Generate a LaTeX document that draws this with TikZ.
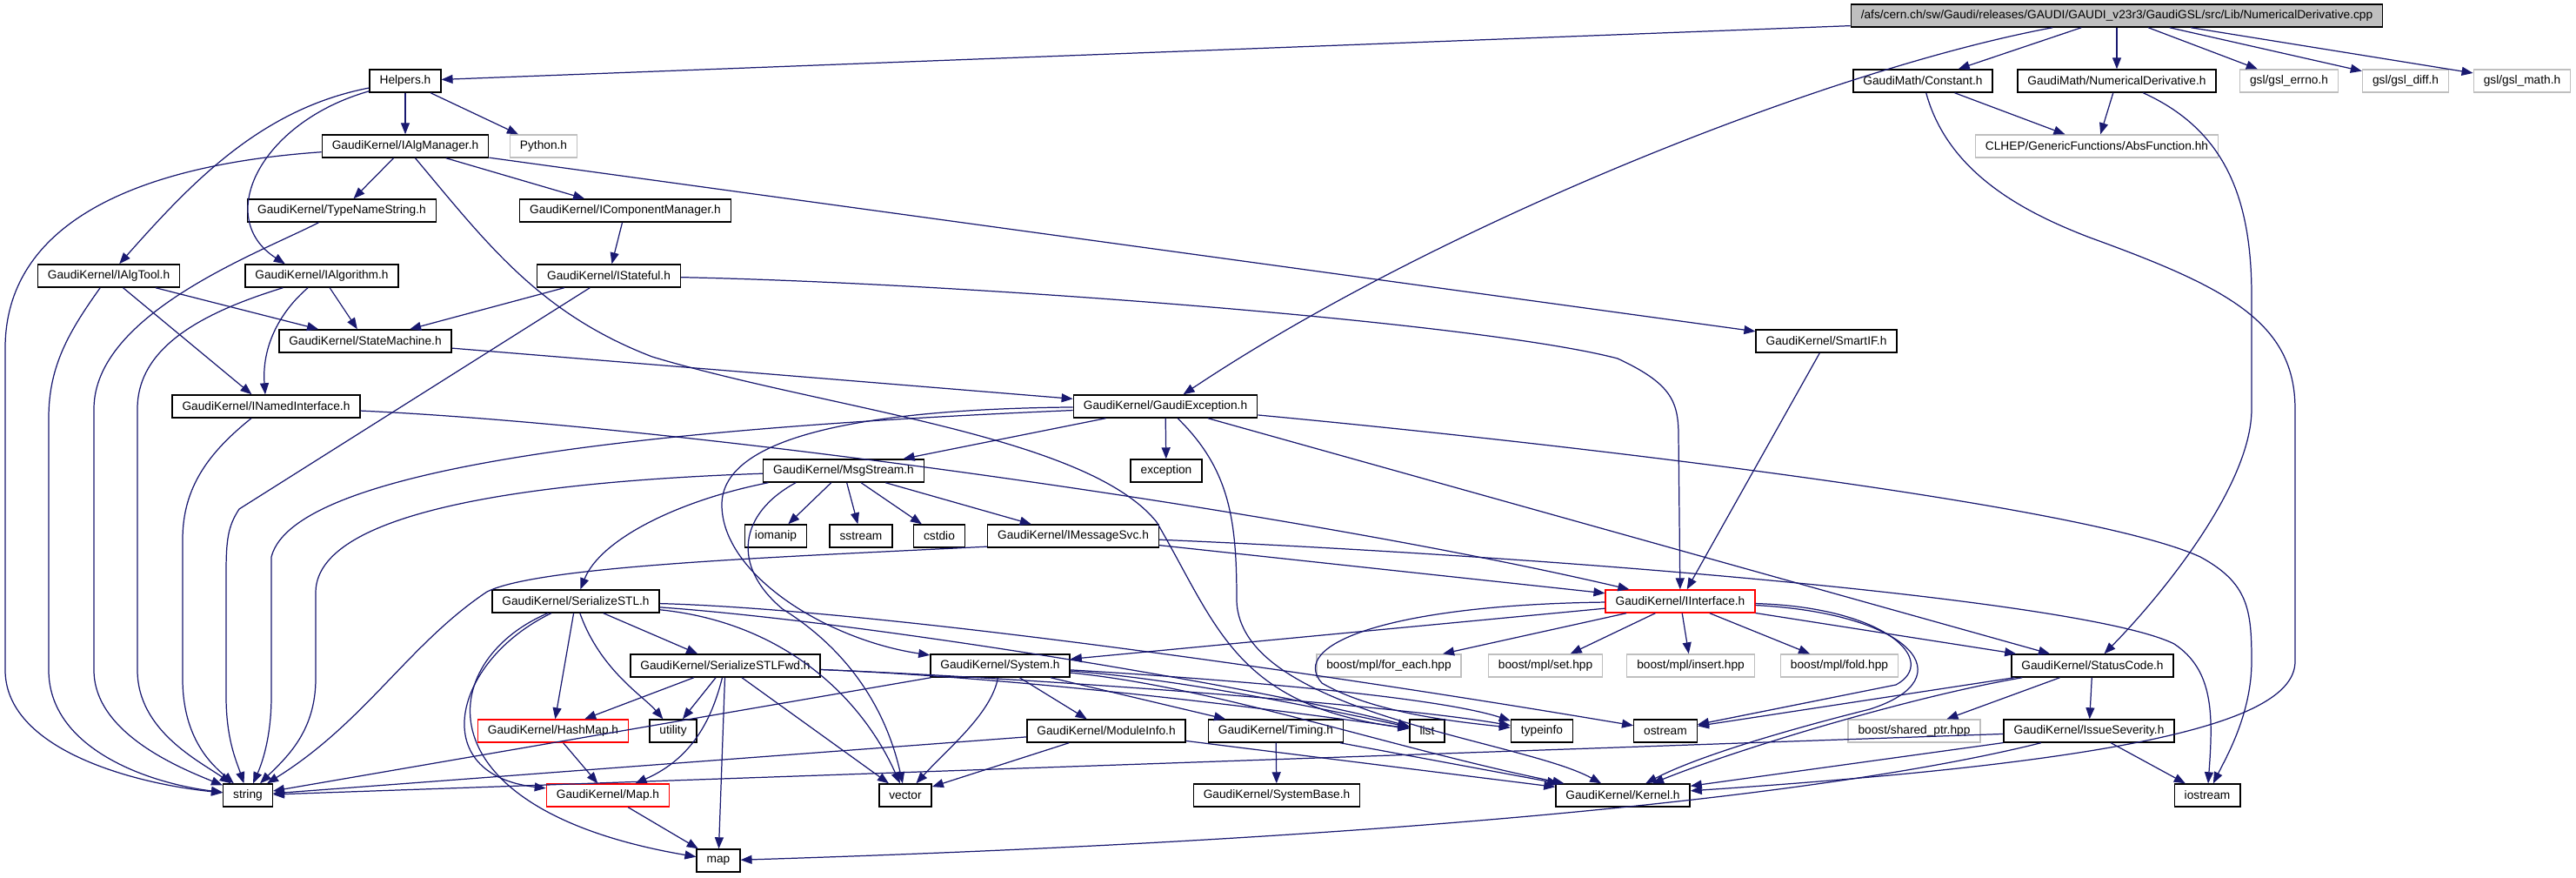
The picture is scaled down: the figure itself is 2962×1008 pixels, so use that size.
\documentclass[tikz,border=0pt]{standalone}
\usepackage{fontspec}
\setmainfont{Liberation Sans}
\usetikzlibrary{arrows.meta, positioning}
\definecolor{edgeblue}{RGB}{25,25,112}
\definecolor{extgray}{RGB}{191,191,191}

\begin{document}
\begin{tikzpicture}[x=0.01cm, y=-0.01cm,
    font=\fontsize{3.9pt}{4.5pt}\selectfont,
    box/.style={rectangle, draw=black, line width=0.4pt, minimum height=0.26cm,
        inner xsep=0.115cm, inner ysep=0pt},
    ext/.style={box, draw=extgray},
    redbox/.style={box, draw=red},
    arrow/.style={-{Triangle[length=0.13cm, width=0.1cm]}, edgeblue, line width=0.35pt}]
    \useasboundingbox (0,0) rectangle (2962,1008);

    \node[box, fill=extgray] (cpp) at (2434,18) {/afs/cern.ch/sw/Gaudi/releases/GAUDI/GAUDI\_v23r3/GaudiGSL/src/Lib/NumericalDerivative.cpp};
    \node[box] (helpers) at (466,93) {Helpers.h};
    \node[box] (constant) at (2211,93) {GaudiMath/Constant.h};
    \node[box] (numderiv) at (2434,93) {GaudiMath/NumericalDerivative.h};
    \node[ext] (gslerrno) at (2632,93) {gsl/gsl\_errno.h};
    \node[ext] (gsldiff) at (2766,93) {gsl/gsl\_diff.h};
    \node[ext] (gslmath) at (2900,93) {gsl/gsl\_math.h};
    \node[box] (algmgr) at (466,168) {GaudiKernel/IAlgManager.h};
    \node[ext] (python) at (625,168) {Python.h};
    \node[ext] (absfunc) at (2411,168) {CLHEP/GenericFunctions/AbsFunction.hh};
    \node[box] (typename) at (393,242) {GaudiKernel/TypeNameString.h};
    \node[box] (compmgr) at (719,242) {GaudiKernel/IComponentManager.h};
    \node[box] (algtool) at (125,317) {GaudiKernel/IAlgTool.h};
    \node[box] (algorithm) at (370,317) {GaudiKernel/IAlgorithm.h};
    \node[box] (stateful) at (700,317) {GaudiKernel/IStateful.h};
    \node[box] (statemachine) at (420,392) {GaudiKernel/StateMachine.h};
    \node[box] (smartif) at (2100,392) {GaudiKernel/SmartIF.h};
    \node[box] (namedif) at (306,467) {GaudiKernel/INamedInterface.h};
    \node[box] (gaudiexc) at (1340,467) {GaudiKernel/GaudiException.h};
    \node[box] (msgstream) at (970,541) {GaudiKernel/MsgStream.h};
    \node[box] (exception) at (1341,541) {exception};
    \node[box] (iomanip) at (892,616) {iomanip};
    \node[box] (sstream) at (990,616) {sstream};
    \node[box] (cstdio) at (1080,616) {cstdio};
    \node[box] (msgsvc) at (1234,616) {GaudiKernel/IMessageSvc.h};
    \node[redbox] (iinterface) at (1932,691) {GaudiKernel/IInterface.h};
    \node[box] (serstl) at (662,691) {GaudiKernel/SerializeSTL.h};
    \node[box] (serfwd) at (834,765) {GaudiKernel/SerializeSTLFwd.h};
    \node[box] (system) at (1150,765) {GaudiKernel/System.h};
    \node[ext] (foreach) at (1597,765) {boost/mpl/for\_each.hpp};
    \node[ext] (mplset) at (1777,765) {boost/mpl/set.hpp};
    \node[ext] (mplinsert) at (1944,765) {boost/mpl/insert.hpp};
    \node[ext] (mplfold) at (2115,765) {boost/mpl/fold.hpp};
    \node[box] (statuscode) at (2406,765) {GaudiKernel/StatusCode.h};
    \node[redbox] (hashmap) at (636,840) {GaudiKernel/HashMap.h};
    \node[box] (utility) at (774,840) {utility};
    \node[box] (modinfo) at (1272,840) {GaudiKernel/ModuleInfo.h};
    \node[box] (timing) at (1467,840) {GaudiKernel/Timing.h};
    \node[box] (list) at (1641,840) {list};
    \node[box] (typeinfo) at (1773,840) {typeinfo};
    \node[box] (ostream) at (1915,840) {ostream};
    \node[ext] (sharedptr) at (2201,840) {boost/shared\_ptr.hpp};
    \node[box] (issuesev) at (2402,840) {GaudiKernel/IssueSeverity.h};
    \node[box] (string) at (285,914) {string};
    \node[redbox] (maph) at (699,914) {GaudiKernel/Map.h};
    \node[box] (vector) at (1041,914) {vector};
    \node[box] (sysbase) at (1468,914) {GaudiKernel/SystemBase.h};
    \node[box] (kernel) at (1866,914) {GaudiKernel/Kernel.h};
    \node[box] (iostream) at (2538,914) {iostream};
    \node[box] (map) at (826,989) {map};

    \draw[arrow] (cpp) -- (helpers);
    \draw[arrow] (cpp) .. controls (2100,80) and (1650,260) .. (gaudiexc);
    \draw[arrow] (cpp) -- (constant);
    \draw[arrow] (cpp) -- (numderiv);
    \draw[arrow] (cpp) -- (gslerrno);
    \draw[arrow] (cpp) -- (gsldiff);
    \draw[arrow] (cpp) -- (gslmath);

    \draw[arrow] (helpers) -- (algmgr);
    \draw[arrow] (helpers) -- (python);
    \draw[arrow] (helpers) .. controls (300,125) and (220,210) .. (algtool);
    \draw[arrow] (helpers) .. controls (300,140) and (245,250) .. (algorithm.162);

    \draw[arrow] (algmgr) -- (typename);
    \draw[arrow] (algmgr) -- (compmgr);
    \draw[arrow] (algmgr) -- (smartif);
    \draw[arrow] (algmgr) .. controls (150,190) and (6,260) .. (6,400) -- (6,770) .. controls (6,860) and (150,900) .. (string);
    \draw[arrow] (algmgr) .. controls (560,280) and (620,360) .. (750,410) .. controls (950,470) and (1250,500) .. (1330,600) .. controls (1400,720) and (1420,810) .. (list);

    \draw[arrow] (typename) .. controls (300,290) and (108,360) .. (108,470) -- (108,770) .. controls (108,840) and (200,880) .. (string);
    \draw[arrow] (compmgr) -- (stateful);

    \draw[arrow] (algtool) -- (statemachine);
    \draw[arrow] (algtool) -- (namedif);
    \draw[arrow] (algtool) .. controls (80,380) and (56,420) .. (56,480) -- (56,770) .. controls (56,860) and (170,900) .. (string);

    \draw[arrow] (algorithm) -- (statemachine);
    \draw[arrow] (algorithm) .. controls (320,360) and (301,400) .. (namedif);
    \draw[arrow] (algorithm) .. controls (230,360) and (158,400) .. (158,470) -- (158,770) .. controls (158,840) and (230,875) .. (string);

    \draw[arrow] (stateful) -- (statemachine);
    \draw[arrow] (stateful) -- (275,585) .. controls (262,605) and (260,620) .. (260,660) -- (260,800) .. controls (260,850) and (272,875) .. (string);
    \draw[arrow] (stateful) .. controls (1100,325) and (1700,370) .. (1860,412) .. controls (1920,440) and (1930,460) .. (1930,500) -- (iinterface);

    \draw[arrow] (statemachine) -- (gaudiexc);
    \draw[arrow] (namedif) .. controls (800,490) and (1500,590) .. (iinterface);
    \draw[arrow] (namedif) .. controls (240,520) and (210,560) .. (210,620) -- (210,780) .. controls (210,850) and (245,880) .. (string);
    \draw[arrow] (smartif) -- (iinterface);

    \draw[arrow] (gaudiexc) -- (msgstream);
    \draw[arrow] (gaudiexc) -- (exception);
    \draw[arrow] (gaudiexc) .. controls (800,490) and (340,530) .. (312,640) -- (312,800) .. controls (312,850) and (300,880) .. (string);
    \draw[arrow] (gaudiexc) -- (statuscode);
    \draw[arrow] (gaudiexc) .. controls (1800,510) and (2400,580) .. (2530,640) .. controls (2585,670) and (2589,700) .. (2589,760) .. controls (2589,820) and (2560,870) .. (iostream);
    \draw[arrow] (gaudiexc) .. controls (1000,470) and (830,500) .. (830,580) .. controls (830,660) and (950,735) .. (system);
    \draw[arrow] (gaudiexc) .. controls (1415,540) and (1422,600) .. (1422,690) .. controls (1425,820) and (1750,850) .. (kernel);

    \draw[arrow] (msgstream.189) .. controls (780,575) and (690,620) .. (serstl);
    \draw[arrow] (msgstream.194) .. controls (850,590) and (840,650) .. (900,700) .. controls (980,750) and (1020,820) .. (vector);
    \draw[arrow] (msgstream) -- (iomanip);
    \draw[arrow] (msgstream) -- (sstream);
    \draw[arrow] (msgstream) -- (cstdio);
    \draw[arrow] (msgstream) -- (msgsvc);
    \draw[arrow] (msgstream) .. controls (650,552) and (365,580) .. (363,680) -- (363,780) .. controls (363,840) and (330,870) .. (string);

    \draw[arrow] (msgsvc.187) .. controls (900,640) and (620,650) .. (560,680) .. controls (470,740) and (420,830) .. (string);
    \draw[arrow] (msgsvc) -- (iinterface);
    \draw[arrow] (msgsvc) .. controls (1800,640) and (2400,690) .. (2500,740) .. controls (2545,770) and (2545,820) .. (iostream);

    \draw[arrow] (serstl) -- (serfwd);
    \draw[arrow] (serstl) -- (hashmap);
    \draw[arrow] (serstl) .. controls (690,770) and (740,800) .. (utility);
    \draw[arrow] (serstl) .. controls (520,760) and (490,890) .. (maph);
    \draw[arrow] (serstl) .. controls (500,760) and (480,930) .. (map);
    \draw[arrow] (serstl) .. controls (1000,700) and (1500,770) .. (ostream);
    \draw[arrow] (serstl) .. controls (1000,715) and (1450,790) .. (list);
    \draw[arrow] (serstl) .. controls (900,715) and (990,800) .. (vector);

    \draw[arrow] (serfwd) -- (hashmap);
    \draw[arrow] (serfwd) -- (utility);
    \draw[arrow] (serfwd) .. controls (820,820) and (800,870) .. (maph);
    \draw[arrow] (serfwd) -- (map);
    \draw[arrow] (serfwd) -- (vector);
    \draw[arrow] (serfwd) .. controls (1200,780) and (1500,820) .. (list);
    \draw[arrow] (serfwd) .. controls (1200,780) and (1600,810) .. (typeinfo);

    \draw[arrow] (system) -- (string);
    \draw[arrow] (system) .. controls (1140,820) and (1090,860) .. (vector);
    \draw[arrow] (system) -- (modinfo);
    \draw[arrow] (system) -- (timing);
    \draw[arrow] (system) .. controls (1350,780) and (1500,810) .. (list);
    \draw[arrow] (system) .. controls (1400,780) and (1650,800) .. (typeinfo);
    \draw[arrow] (system) .. controls (1400,790) and (1600,860) .. (kernel);

    \draw[arrow] (modinfo) -- (string);
    \draw[arrow] (modinfo) -- (vector);
    \draw[arrow] (modinfo) -- (kernel);
    \draw[arrow] (timing) -- (sysbase);
    \draw[arrow] (timing) -- (kernel);
    \draw[arrow] (hashmap) -- (maph);
    \draw[arrow] (maph) -- (map);

    \draw[arrow] (iinterface) -- (system);
    \draw[arrow] (iinterface) -- (foreach);
    \draw[arrow] (iinterface) -- (mplset);
    \draw[arrow] (iinterface) -- (mplinsert);
    \draw[arrow] (iinterface) -- (mplfold);
    \draw[arrow] (iinterface) -- (statuscode);
    \draw[arrow] (iinterface) .. controls (2170,698) and (2230,760) .. (2180,787) -- (ostream);
    \draw[arrow] (iinterface) .. controls (2200,705) and (2260,780) .. (2150,815) .. controls (2050,840) and (1950,870) .. (kernel);
    \draw[arrow] (iinterface) .. controls (1600,695) and (1480,740) .. (1520,785) .. controls (1580,820) and (1680,830) .. (typeinfo);

    \draw[arrow] (statuscode) -- (ostream);
    \draw[arrow] (statuscode) .. controls (2200,800) and (2000,860) .. (kernel);
    \draw[arrow] (statuscode) -- (sharedptr);
    \draw[arrow] (statuscode) -- (issuesev);

    \draw[arrow] (issuesev) -- (string);
    \draw[arrow] (issuesev) .. controls (2100,915) and (1600,965) .. (map);
    \draw[arrow] (issuesev) -- (kernel);
    \draw[arrow] (issuesev) -- (iostream);

    \draw[arrow] (constant) -- (absfunc);
    \draw[arrow] (numderiv) -- (absfunc);
    \draw[arrow] (constant) .. controls (2240,200) and (2330,245) .. (2403,273) .. controls (2560,330) and (2639,370) .. (2639,470) -- (2639,760) .. controls (2639,830) and (2450,875) .. (kernel);
    \draw[arrow] (numderiv) .. controls (2560,150) and (2589,230) .. (2589,340) -- (2589,470) .. controls (2589,560) and (2480,690) .. (statuscode);
\end{tikzpicture}
\end{document}
